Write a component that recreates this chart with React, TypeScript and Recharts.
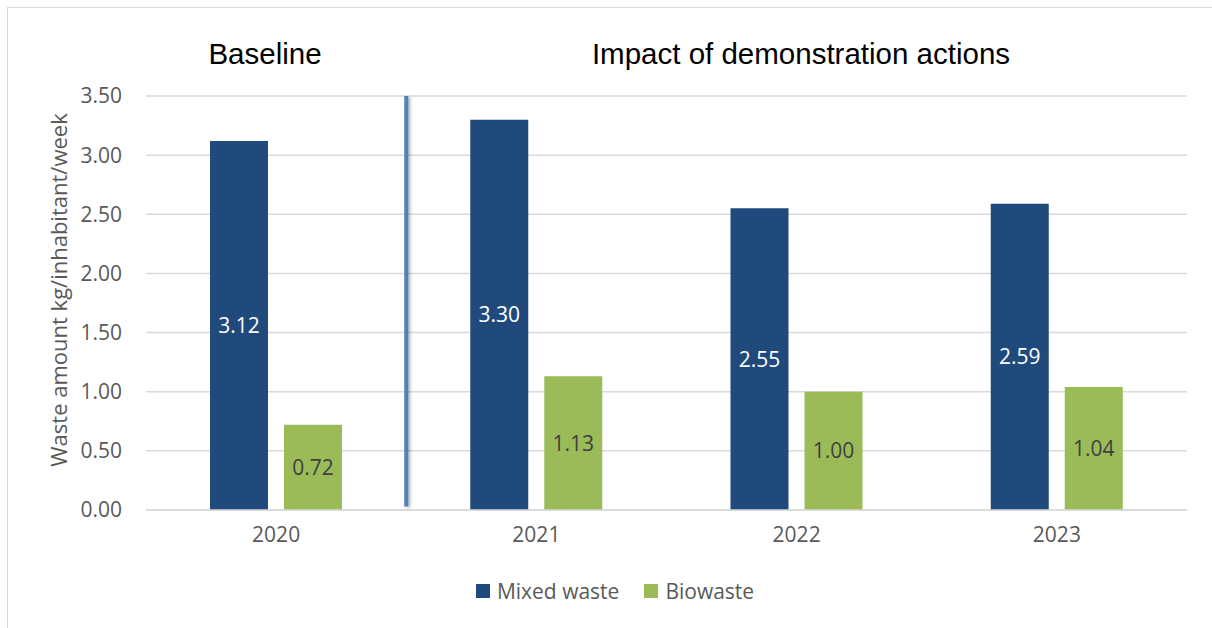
import { BarChart, Bar, XAxis, YAxis, CartesianGrid, LabelList, Legend, ReferenceLine } from 'recharts'

const YEARS = ['2020', '2021', '2022', '2023']
const MIXED_WASTE = [3.12, 3.3, 2.55, 2.59]
const BIOWASTE = [0.72, 1.13, 1.0, 1.04]
const Y_TICKS = [0, 0.5, 1, 1.5, 2, 2.5, 3, 3.5]
// last baseline year; the divider goes at the end of its band
const BASELINE_YEAR = '2020'

const SERIES = [
  { key: 'mixed', name: 'Mixed waste', color: '#1f4a7b', labelColor: '#ffffff' },
  { key: 'bio', name: 'Biowaste', color: '#9bbb59', labelColor: '#404040' },
]

const data = YEARS.map((year, i) => ({ year, mixed: MIXED_WASTE[i], bio: BIOWASTE[i] }))

const FONT = '"Open Sans", sans-serif'
const TEXT = '#595959'

function LegendContent({ payload }: any) {
  const items = SERIES.map((s) => (payload ?? []).find((p: any) => p.dataKey === s.key)).filter(Boolean)
  return (
    <div style={{ display: 'flex', justifyContent: 'center', gap: 25, fontFamily: FONT, fontSize: 21, color: TEXT }}>
      {items.map((p: any) => (
        <div key={p.value} style={{ display: 'flex', alignItems: 'center' }}>
          <span style={{ width: 14, height: 14, background: p.color, marginRight: 7, display: 'inline-block' }} />
          <span>{p.value}</span>
        </div>
      ))}
    </div>
  )
}

export default function App() {
  const titleStyle = {
    position: 'absolute' as const,
    top: 37,
    textAlign: 'center' as const,
    fontFamily: '"Liberation Sans", Arial, sans-serif',
    fontSize: 29.5,
    color: '#000',
  }
  return (
    <div style={{ position: 'fixed', left: 0, top: 0, width: 1212, height: 628, overflow: 'hidden', background: '#fff' }}>
      {/* outer frame */}
      <div style={{ position: 'absolute', left: 7, top: 7, width: 1300, height: 700, border: '1.5px solid #d9d9d9' }} />

      {/* section titles */}
      <div style={{ ...titleStyle, left: 165, width: 200 }}>Baseline</div>
      <div style={{ ...titleStyle, left: 451, width: 700 }}>Impact of demonstration actions</div>

      {/* y axis title */}
      <div
        style={{
          position: 'absolute',
          left: 58,
          top: 290,
          transform: 'translate(-50%, -50%) rotate(-90deg)',
          whiteSpace: 'nowrap',
          fontFamily: FONT,
          fontSize: 22,
          color: TEXT,
        }}
      >
        Waste amount kg/inhabitant/week
      </div>

      <div style={{ position: 'absolute', left: 0, top: 0 }}>
        <BarChart width={1212} height={628} data={data} margin={{ top: 96, right: 25, bottom: 88, left: 30 }} barSize={58} barGap={16}>
          <CartesianGrid vertical={false} stroke="#d9d9d9" strokeWidth={1.5} />
          <XAxis
            dataKey="year"
            axisLine={{ stroke: '#d9d9d9', strokeWidth: 1.5 }}
            tickLine={false}
            tickSize={0}
            tickMargin={17}
            tick={{ fill: TEXT, fontSize: 21, fontFamily: FONT }}
          />
          <YAxis
            width={116}
            domain={[0, 3.5]}
            ticks={Y_TICKS}
            interval={0}
            axisLine={false}
            tickLine={false}
            tickSize={0}
            tickMargin={24}
            tickFormatter={(v: number) => v.toFixed(2)}
            tick={{ fill: TEXT, fontSize: 21, fontFamily: FONT }}
          />
          {SERIES.map((s) => (
            <Bar key={s.key} dataKey={s.key} name={s.name} fill={s.color} isAnimationActive={false}>
              <LabelList
                dataKey={s.key}
                position="center"
                fill={s.labelColor}
                fontSize={21}
                fontFamily={FONT}
                formatter={(v: any) => Number(v).toFixed(2)}
              />
            </Bar>
          ))}
          {/* divider between the baseline year and the action years */}
          <ReferenceLine
            segment={[
              { x: BASELINE_YEAR, y: 0.03 },
              { x: BASELINE_YEAR, y: 3.5 },
            ]}
            position="end"
            stroke="#4f81bd"
            strokeWidth={4}
            style={{ filter: 'drop-shadow(2px 1px 1.5px rgba(0,0,0,0.3))' }}
          />
          <Legend
            verticalAlign="middle"
            align="center"
            layout="horizontal"
            content={<LegendContent />}
            wrapperStyle={{ top: 577, left: 0, width: 1230 }}
          />
        </BarChart>
      </div>
    </div>
  )
}
